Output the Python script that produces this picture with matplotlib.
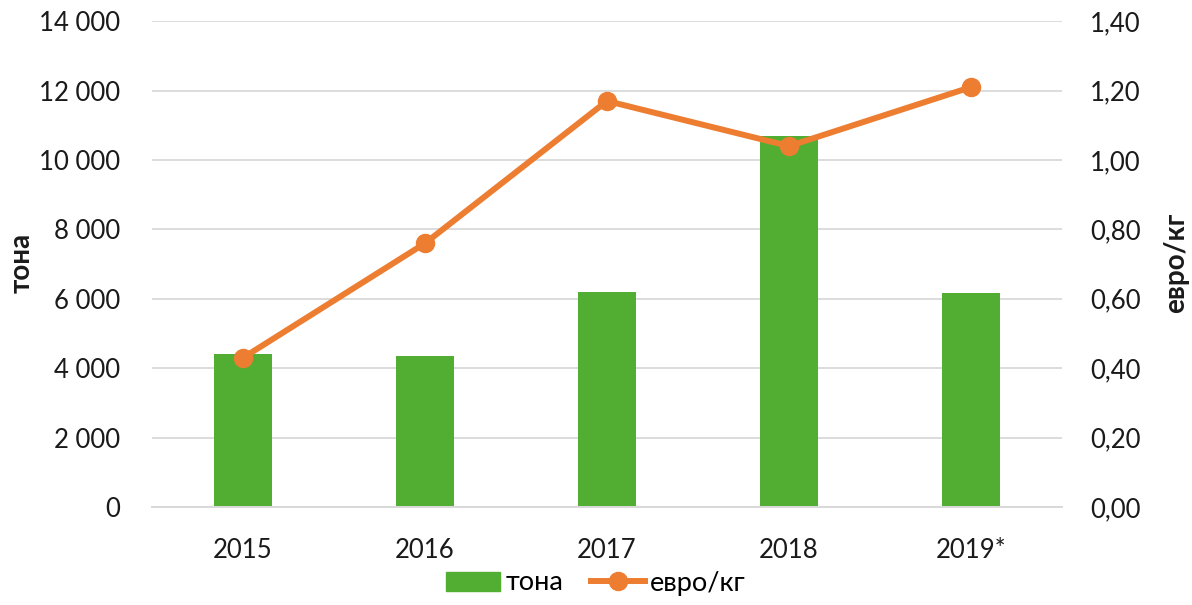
import matplotlib.pyplot as plt
import matplotlib.ticker as ticker
from matplotlib.lines import Line2D
from matplotlib.patches import Patch

plt.rcParams["font.family"] = ["Lato", "DejaVu Sans"]

years = ["2015", "2016", "2017", "2018", "2019*"]
tons = [4400, 4340, 6190, 10690, 6165]
eur_per_kg = [0.43, 0.76, 1.17, 1.04, 1.21]

green = "#52AE32"
orange = "#ED7D31"
grid_c = "#D9D9D9"

W, H = 1192, 605
fig = plt.figure(figsize=(W / 100, H / 100), dpi=100)
ax = fig.add_axes([0.1275, 0.162, 0.7635, 0.803])
ax2 = ax.twinx()

x = list(range(len(years)))
ax.bar(x, tons, width=0.32, color=green, zorder=2)
ax2.plot(x, eur_per_kg, color=orange, lw=4.3, marker="o", ms=13,
         solid_capstyle="round", zorder=3)

ax.set_xlim(-0.5, len(years) - 0.5)
ax.set_ylim(0, 14000)
ax2.set_ylim(0, 1.4)
ax.set_yticks(range(0, 14001, 2000))
ax2.set_yticks([i * 0.2 for i in range(8)])

ax.yaxis.set_major_formatter(ticker.FuncFormatter(
    lambda v, p: f"{int(v):,}".replace(",", " ")))
ax2.yaxis.set_major_formatter(ticker.FuncFormatter(
    lambda v, p: f"{v:.2f}".replace(".", ",")))

ax.set_xticks(x)
ax.set_xticklabels(years)
ax.grid(axis="y", color=grid_c, lw=1.3, zorder=0)
ax.set_axisbelow(True)

for a in (ax, ax2):
    for s in ("top", "left", "right"):
        a.spines[s].set_visible(False)
    a.spines["bottom"].set_color(grid_c)
    a.spines["bottom"].set_linewidth(1.3)
    a.tick_params(length=0, labelsize=18.5, colors="#1a1a1a")
ax.tick_params(axis="y", pad=23)
ax2.tick_params(axis="y", pad=20)
ax.tick_params(axis="x", pad=22)

# axis titles placed by hand so they stay inside the canvas
fig.text(22 / W, 1 - 263 / H, "тона", rotation=90, ha="center", va="center",
         fontsize=20, fontweight="bold", color="#1a1a1a")
fig.text(1176 / W, 1 - 263 / H, "евро/кг", rotation=90, ha="center", va="center",
         fontsize=20, fontweight="bold", color="#1a1a1a")

handles = [Patch(color=green, label="тона"),
           Line2D([0], [0], color=orange, lw=4.3, marker="o", ms=13, label="евро/кг")]
fig.legend(handles=handles, loc="center", bbox_to_anchor=(0.5, 1 - 583 / H),
           ncol=2, frameon=False, fontsize=19.5, handlelength=2.0,
           handletextpad=0.2, columnspacing=1.0)

fig.savefig("out.png", dpi=100)
